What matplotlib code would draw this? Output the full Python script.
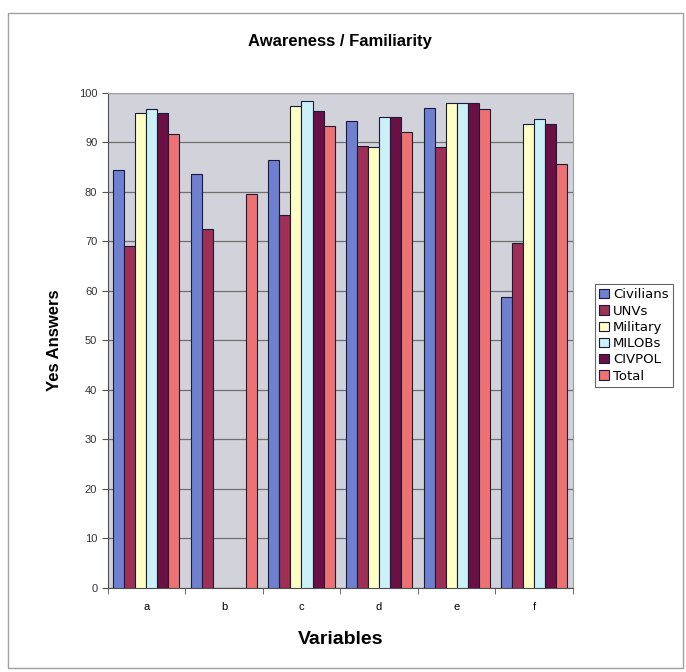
import numpy as np
import matplotlib
matplotlib.use('Agg')
import matplotlib.pyplot as plt
from matplotlib.patches import Rectangle

plt.rcParams['font.family'] = ['Liberation Sans', 'DejaVu Sans']

# data
variables = ['a', 'b', 'c', 'd', 'e', 'f']
groups = ['Civilians', 'UNVs', 'Military', 'MILOBs', 'CIVPOL', 'Total']
civilians = [84.5, 83.5, 86.5, 94.2, 97.0, 58.8]
unvs = [69.0, 72.5, 75.4, 89.2, 89.0, 69.7]
military = [96.0, 0, 97.4, 89.0, 98.0, 93.6]
milobs = [96.8, 0, 98.4, 95.2, 98.0, 94.6]
civpol = [96.0, 0, 96.4, 95.2, 98.0, 93.6]
total = [91.7, 79.6, 93.3, 92.0, 96.8, 85.6]
series = [civilians, unvs, military, milobs, civpol, total]

colors = ['#7080d0', '#9e3056', '#ffffc4', '#ccf0f8', '#6a1044', '#ee7272']

fig = plt.figure(figsize=(6.86, 6.72), dpi=100)
ax = fig.add_axes([0.157, 0.125, 0.678, 0.737])
ax.set_facecolor('#d2d2da')

x = np.arange(len(variables))
bw = 0.142
for i, (name, vals) in enumerate(zip(groups, series)):
    offs = (i - 2.5) * bw
    ax.bar(x + offs, vals, bw, color=colors[i], edgecolor='#1a1a3a',
           linewidth=0.8, label=name, zorder=3)

ax.set_xlim(-0.5, len(variables) - 0.5)
ax.set_ylim(0, 100)
ax.set_yticks(range(0, 101, 10))
ax.yaxis.grid(True, color='#707070', linewidth=0.9, zorder=0)
ax.set_xticks(x)
ax.set_xticklabels(variables, fontsize=8)
ax.set_xticks(np.arange(-0.5, len(variables), 1), minor=True)
ax.tick_params(axis='x', which='major', length=0, pad=10)
ax.tick_params(axis='x', which='minor', length=4, color='#555555')
ax.tick_params(axis='y', labelsize=8, length=4, color='#555555', colors='#333333')
for s in ['top', 'right']:
    ax.spines[s].set_color('#a0a0a0')
for s in ['left', 'bottom']:
    ax.spines[s].set_color('#505050')

ax.set_ylabel('Yes Answers', fontsize=12, fontweight='bold', labelpad=12)
ax.set_xlabel('Variables', fontsize=14, fontweight='bold', labelpad=14)
fig.text(0.496, 0.938, 'Awareness / Familiarity', ha='center', va='center',
         fontsize=12, fontweight='bold')

leg = fig.legend(loc='upper left', bbox_to_anchor=(0.867, 0.578), frameon=True,
                 fancybox=False, edgecolor='#404040',
                 prop={'family': 'DejaVu Sans', 'size': 9.5},
                 handlelength=0.7, handleheight=0.7, handletextpad=0.35,
                 labelspacing=0.25, borderpad=0.35, borderaxespad=0)
leg.get_frame().set_linewidth(0.8)

fig.patches.append(Rectangle((0.011, 0.006), 0.985, 0.975, transform=fig.transFigure,
                             fill=False, edgecolor='#a0a0a0', linewidth=1.0))

fig.savefig('out.png', dpi=100)
